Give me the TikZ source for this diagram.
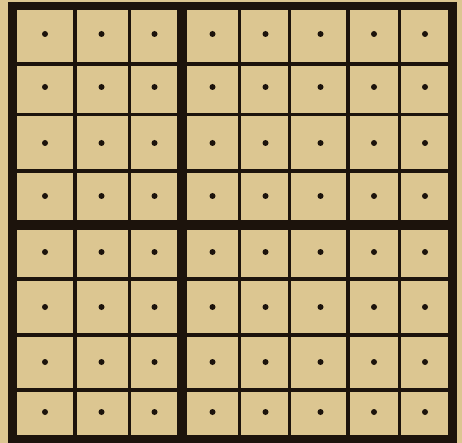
\documentclass[tikz,border=0pt]{standalone}
\usepackage{tikz,xcolor}
\definecolor{paper}{HTML}{DCC691}
\definecolor{ink}{HTML}{1C130C}
\tikzset{
  thinrule/.style={draw=ink,line width=3.8pt},
  heavyrule/.style={draw=ink,line width=10pt},
  framerule/.style={draw=ink,line width=8.5pt},
  peg/.style={fill=ink},
}
\begin{document}
\begin{tikzpicture}[x=1pt,y=-1pt]
  \fill[paper] (0,0) rectangle (462,443);
  \useasboundingbox (0,0) rectangle (462,443);
  % thin rules between the squares
  \foreach \gx in {75,129.5,239.5,289.5,348,399.5}
    \draw[thinrule] (\gx,4) -- (\gx,440);
  \foreach \gy in {64,114.5,171,279,335,390}
    \draw[thinrule] (10,\gy) -- (455,\gy);
  % the two heavy rules
  \draw[heavyrule] (182,4) -- (182,440);
  \draw[heavyrule] (10,225.5) -- (455,225.5);
  % outer frame
  \draw[framerule] (12.5,6) rectangle (452.5,439);
  % one peg per square
  \foreach \cx in {45,101.5,154.5,212.5,265.5,320.5,374,425}
    \foreach \cy in {34,87,143,196,252,307,362,412}
      \fill[peg] (\cx,\cy) circle (3pt);
\end{tikzpicture}
\end{document}
